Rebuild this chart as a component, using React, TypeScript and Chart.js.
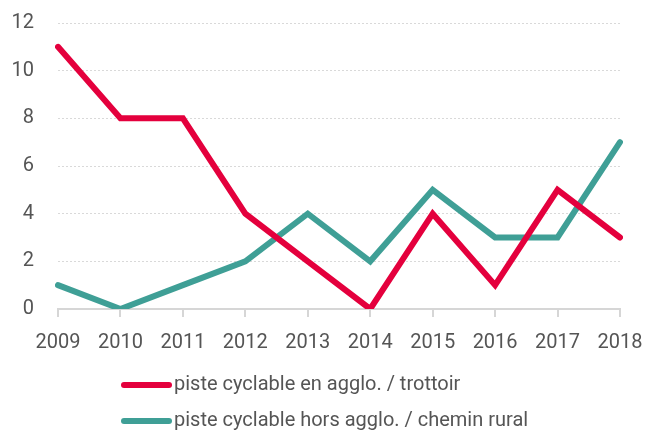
import React, { useEffect, useRef } from "react";
import { Chart, registerables } from "chart.js";

Chart.register(...registerables);

const years = ["2009", "2010", "2011", "2012", "2013", "2014", "2015", "2016", "2017", "2018"];
const seriesNames = ["piste cyclable en agglo. / trottoir", "piste cyclable hors agglo. / chemin rural"];
const enAgglo = [11, 8, 8, 4, 2, 0, 4, 1, 5, 3];
const horsAgglo = [1, 0, 1, 2, 4, 2, 5, 3, 3, 7];
const seriesColors = ["#e4003d", "#3f9f96"];

const FONT = "Roboto, 'Noto Sans', sans-serif";
const TEXT = "#555555";

const legendPlugin = {
  id: "customLegend",
  afterDraw(chart: any) {
    const ctx = chart.ctx;
    ctx.save();
    const x0 = 124;
    const rows = [385, 421];
    chart.data.datasets.forEach((ds: any, i: number) => {
      const y = rows[i];
      ctx.strokeStyle = ds.borderColor;
      ctx.lineWidth = 6;
      ctx.lineCap = "round";
      ctx.beginPath();
      ctx.moveTo(x0, y);
      ctx.lineTo(x0 + 45, y);
      ctx.stroke();
      ctx.fillStyle = TEXT;
      ctx.font = `20px ${FONT}`;
      ctx.textBaseline = "middle";
      ctx.textAlign = "left";
      ctx.fillText(ds.label, x0 + 50, y);
    });
    ctx.restore();
  },
};

export default function App() {
  const ref = useRef<HTMLCanvasElement>(null);
  useEffect(() => {
    if (!ref.current) return;
    const chart = new Chart(ref.current, {
      type: "line",
      data: {
        labels: years,
        datasets: [
          { label: seriesNames[0], data: enAgglo, borderColor: seriesColors[0], backgroundColor: seriesColors[0], borderWidth: 6, borderCapStyle: "round", pointRadius: 0, tension: 0 },
          { label: seriesNames[1], data: horsAgglo, borderColor: seriesColors[1], backgroundColor: seriesColors[1], borderWidth: 6, borderCapStyle: "round", pointRadius: 0, tension: 0 },
        ],
      },
      options: {
        animation: false,
        responsive: false,
        maintainAspectRatio: false,
        layout: { padding: { left: 0, right: 26, top: 23, bottom: 73 } },
        plugins: { legend: { display: false }, tooltip: { enabled: false } },
        scales: {
          x: {
            offset: false,
            grid: { display: true, drawOnChartArea: false, drawTicks: true, tickLength: 8, color: "#d6d6d6", lineWidth: 2 },
            border: { display: true, color: "#d6d6d6", width: 2 },
            ticks: { color: TEXT, font: { family: FONT, size: 20 }, padding: 14, maxRotation: 0, autoSkip: false },
            afterFit: (s: any) => { s.height = 50; s.paddingLeft = 0; s.paddingRight = 0; },
          },
          y: {
            min: 0,
            max: 12,
            ticks: { stepSize: 2, color: TEXT, font: { family: FONT, size: 20 }, padding: 24 },
            grid: { drawTicks: false, color: "#d9d9d9", lineWidth: 1 },
            border: { display: false, dash: [2, 2] },
            afterFit: (s: any) => { s.width = 58; s.paddingTop = 0; s.paddingBottom = 0; },
          },
        },
      },
      plugins: [legendPlugin],
    });
    return () => chart.destroy();
  }, []);
  return (
    <div style={{ position: "fixed", left: 0, top: 0, width: 646, height: 432, background: "#fff" }}>
      <canvas ref={ref} width={646} height={432} style={{ width: 646, height: 432 }} />
    </div>
  );
}
